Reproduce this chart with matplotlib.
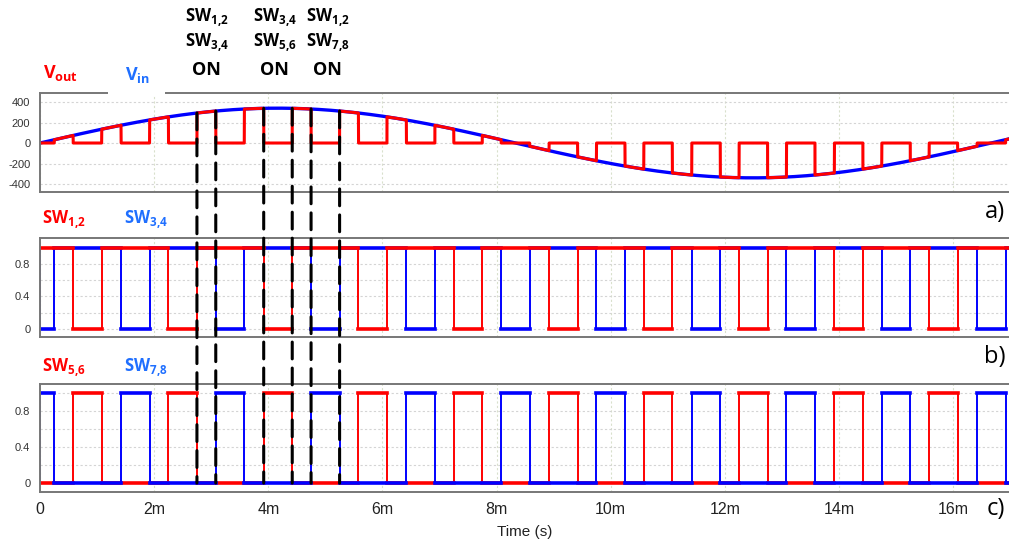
import matplotlib
matplotlib.use('Agg')
import numpy as np
import matplotlib.pyplot as plt
from matplotlib.patches import ConnectionPatch, Rectangle

# Supply voltage (sine) and switch timing, all times in ms
VIN_PEAK = 340.0
LINE_FREQ = 60.0

# windows where SW1,2 / SW3,4 are open (SW5,6 / SW7,8 are their complements)
SW12_OFF = [(0.58, 1.08), (2.25, 2.75), (3.92, 4.42), (5.58, 6.08), (7.25, 7.75),
            (8.92, 9.42), (10.58, 11.08), (12.25, 12.75), (13.92, 14.42), (15.58, 16.08)]
SW34_OFF = [(0.0, 0.25), (1.42, 1.92), (3.08, 3.58), (4.75, 5.25), (6.42, 6.92),
            (8.08, 8.58), (9.75, 10.25), (11.42, 11.92), (13.08, 13.58), (14.75, 15.25),
            (16.42, 16.92)]

# marker lines for the switching states called out on top
DASH_TIMES = [2.75, 3.08, 3.92, 4.42, 4.75, 5.25]

X_TICKS = [0, 2, 4, 6, 8, 10, 12, 14, 16]
X_LABELS = ['0', '2m', '4m', '6m', '8m', '10m', '12m', '14m', '16m']
V_TICKS = [400, 200, 0, -200, -400]
V_LABELS = ['400', '200', '0', '-200', '-400']
SW_TICKS = [0, 0.4, 0.8]
SW_LABELS = ['0', '0.4', '0.8']
SW_GRID = [0.2, 0.6, 1.0]

W, H = 1009, 544
T_END = 16.98

RED = '#ff0000'
BLUE = '#0000ff'
TXT_BLUE = '#1f6fff'

plt.rcParams['font.family'] = ['Liberation Sans', 'DejaVu Sans']
plt.rcParams['mathtext.fontset'] = 'custom'
plt.rcParams['mathtext.rm'] = 'Open Sans'
plt.rcParams['mathtext.bf'] = 'Open Sans:bold'


def pulse_train(windows, base, pulse):
    xs, ys = [0.0], [base]
    for start, end in windows:
        xs += [start, start, end, end]
        ys += [base, pulse, pulse, base]
    xs.append(T_END)
    ys.append(base)
    return np.array(xs), np.array(ys)


def is_off(t, windows):
    off = np.zeros_like(t, dtype=bool)
    for start, end in windows:
        off |= (t >= start) & (t < end)
    return off


def vin_at(t):
    return VIN_PEAK * np.sin(2 * np.pi * LINE_FREQ * t / 1000.0)


t = np.linspace(0, T_END, 20001)
vin = vin_at(t)
vout = np.where(is_off(t, SW12_OFF) | is_off(t, SW34_OFF), 0.0, vin)

fig = plt.figure(figsize=(W / 100, H / 100), dpi=100)


def add_panel(top, bottom):
    return fig.add_axes([40 / W, 1 - bottom / H, 1 - 40 / W, (bottom - top) / H])


ax_a = add_panel(93, 192)
ax_b = add_panel(238, 337)
ax_c = add_panel(384, 492)


def style(ax, ylim, ticks, labels, minor=None):
    ax.set_xlim(0, T_END)
    ax.set_ylim(*ylim)
    ax.set_yticks(ticks, labels)
    if minor:
        ax.set_yticks(minor, minor=True)
    ax.set_xticks(X_TICKS, X_LABELS)
    ax.tick_params(which='both', length=0)
    ax.tick_params(axis='y', labelsize=8, labelcolor='#333333', pad=7)
    ax.tick_params(axis='x', labelsize=11.5, labelcolor='#222222', pad=7)
    ax.grid(axis='y', which='both', color='#d4d4d4', lw=0.8, ls=(0, (2, 2)))
    ax.grid(axis='x', color='#d9e0cc', lw=0.8, ls=(0, (2, 2)))
    ax.set_axisbelow(True)
    ax.spines['right'].set_visible(False)
    for side in ('left', 'top', 'bottom'):
        ax.spines[side].set_color('#777777')
        ax.spines[side].set_linewidth(1.4)


def draw_train(ax, xs, ys, color):
    # thin switching edges, heavier flat levels
    ax.plot(xs, ys, color=color, lw=1.4)
    flat = ys[:-1] == ys[1:]
    ax.hlines(ys[:-1][flat], xs[:-1][flat], xs[1:][flat], color=color, lw=2.6,
              capstyle='projecting')


style(ax_a, (-478, 488), V_TICKS, V_LABELS)
style(ax_b, (-0.098, 1.117), SW_TICKS, SW_LABELS, SW_GRID)
style(ax_c, (-0.10, 1.106), SW_TICKS, SW_LABELS, SW_GRID)
ax_a.tick_params(labelbottom=False)
ax_b.tick_params(labelbottom=False)
ax_c.set_xlabel('Time (s)', fontsize=11, color='#222222', labelpad=6)

# a) input and output voltage
ax_a.plot(t, vin, color=BLUE, lw=2.4)
ax_a.plot(t, vout, color=RED, lw=2.2)

# b) SW1,2 / SW3,4 gate signals
draw_train(ax_b, *pulse_train(SW34_OFF, 1, 0), BLUE)
draw_train(ax_b, *pulse_train(SW12_OFF, 1, 0), RED)

# c) SW5,6 / SW7,8 are the complements
draw_train(ax_c, *pulse_train(SW12_OFF, 0, 1), RED)
draw_train(ax_c, *pulse_train(SW34_OFF, 0, 1), BLUE)

for td in DASH_TIMES:
    con = ConnectionPatch(xyA=(td, vin_at(td)), coordsA=ax_a.transData,
                          xyB=(td, 0), coordsB=ax_c.transData,
                          color='black', lw=2.2, linestyle=(0, (5.5, 3)), zorder=6)
    fig.add_artist(con)

# white box behind the Vin label breaks the top frame
fig.add_artist(Rectangle((108 / W, 1 - 96 / H), 57 / W, 6 / H, transform=fig.transFigure,
                         facecolor='white', edgecolor='none', zorder=5))


def put(x, y, s, color='black', size=12, **kw):
    fig.text(x / W, 1 - y / H, s, color=color, fontsize=size, ha='left', va='baseline', **kw)


def sw(a, b):
    return r'$\mathbf{SW}_{\mathbf{%s{,}%s}}$' % (a, b)


put(43, 78, r'$\mathbf{V}_{\mathbf{out}}$', RED, 13)
put(125, 80, r'$\mathbf{V}_{\mathbf{in}}$', TXT_BLUE, 13)

for x0, x_on, first, second in [(185, 192, ('1', '2'), ('3', '4')),
                                (253, 260, ('3', '4'), ('5', '6')),
                                (306, 313, ('1', '2'), ('7', '8'))]:
    put(x0, 22, sw(*first), 'black', 12)
    put(x0, 47, sw(*second), 'black', 12)
    put(x_on, 75, 'ON', 'black', 13, family='Open Sans', weight='bold')

put(42, 224, sw('1', '2'), RED, 12)
put(124, 224, sw('3', '4'), TXT_BLUE, 12)
put(42, 372, sw('5', '6'), RED, 12)
put(124, 372, sw('7', '8'), TXT_BLUE, 12)

for y, s in [(212, 'a)'), (357, 'b)'), (509, 'c)')]:
    fig.text(1005 / W, 1 - y / H, s, fontsize=17, family='Open Sans',
             ha='right', va='center', color='black')

fig.savefig('out.png', dpi=100)
